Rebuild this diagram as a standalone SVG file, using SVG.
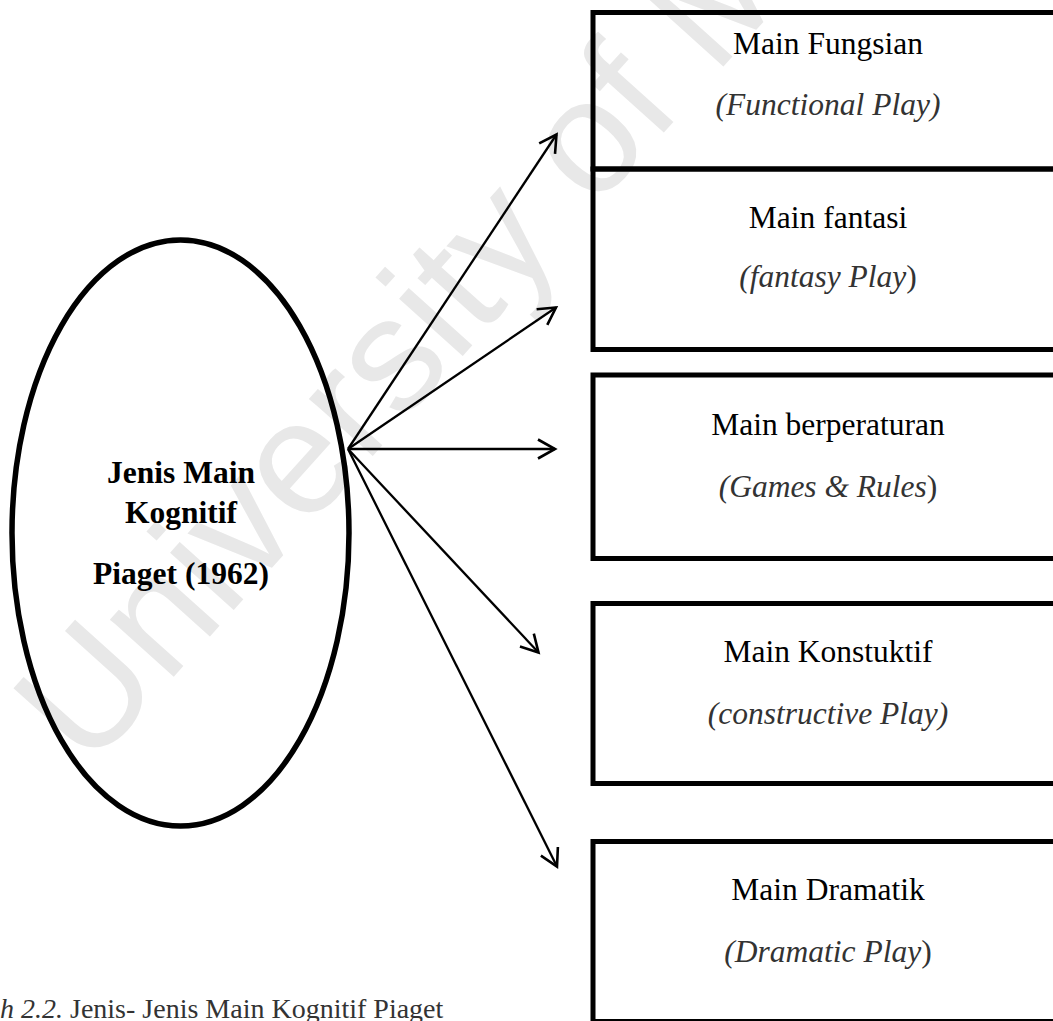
<svg xmlns="http://www.w3.org/2000/svg" width="1053" height="1021" viewBox="0 0 1053 1021">
  <style>
    .box { fill: none; stroke: #000; stroke-width: 5; }
    .oval { fill: none; stroke: #000; stroke-width: 5.5; }
    .lbl { font-family: "Liberation Serif", "Times New Roman", serif; font-size: 31.5px; fill: #000; text-anchor: middle; }
    .sub { font-family: "Liberation Serif", "Times New Roman", serif; font-size: 31.5px; fill: #333; text-anchor: middle; }
    .it { font-style: italic; }
    .head { font-family: "Liberation Serif", "Times New Roman", serif; font-size: 31.5px; font-weight: bold; fill: #000; text-anchor: middle; }
    .link { stroke: #000; stroke-width: 2.3; fill: none; marker-end: url(#openArrow); }
    .wm { font-family: "Liberation Sans", Arial, sans-serif; font-size: 162px; fill: #e8e8e8; }
    .cap { font-family: "Liberation Serif", "Times New Roman", serif; font-size: 28px; fill: #333; }
  </style>
  <defs>
    <marker id="openArrow" markerUnits="userSpaceOnUse" viewBox="-22 -13 26 26" refX="0" refY="0" markerWidth="26" markerHeight="26" orient="auto">
      <path d="M-17,-9.5 L0,0 L-17,9.5" fill="none" stroke="#000" stroke-width="2.6" stroke-linejoin="miter"/>
    </marker>
  </defs>

  <rect width="1053" height="1021" fill="#fff"/>

  <!-- background watermark -->
  <text class="wm" transform="translate(88,772) rotate(-48)" x="0" y="0">University of Malaya</text>

  <!-- central node -->
  <g id="node-piaget">
    <ellipse class="oval" cx="180.5" cy="533" rx="168.5" ry="293"/>
    <text class="head" x="181" y="483">Jenis Main</text>
    <text class="head" x="181" y="523">Kognitif</text>
    <text class="head" x="181" y="584">Piaget (1962)</text>
  </g>

  <!-- play types -->
  <g id="node-functional">
    <rect class="box" x="593" y="12.5" width="470" height="156.5"/>
    <text class="lbl" x="828" y="54">Main Fungsian</text>
    <text class="sub it" x="828" y="114.5">(Functional Play)</text>
  </g>
  <g id="node-fantasy">
    <rect class="box" x="593" y="169" width="470" height="180.5"/>
    <text class="lbl" x="828" y="227.5">Main fantasi</text>
    <text class="sub" x="828" y="287"><tspan class="it">(fantasy Play</tspan>)</text>
  </g>
  <g id="node-rules">
    <rect class="box" x="593" y="375" width="470" height="183.5"/>
    <text class="lbl" x="828" y="435">Main berperaturan</text>
    <text class="sub" x="828" y="497"><tspan class="it">(Games &amp; Rules</tspan>)</text>
  </g>
  <g id="node-constructive">
    <rect class="box" x="593" y="603.5" width="470" height="180"/>
    <text class="lbl" x="828" y="661.5">Main Konstuktif</text>
    <text class="sub it" x="828" y="723.5">(constructive Play)</text>
  </g>
  <g id="node-dramatic">
    <rect class="box" x="593" y="841.5" width="470" height="180"/>
    <text class="lbl" x="828" y="900">Main Dramatik</text>
    <text class="sub" x="828" y="961.5"><tspan class="it">(Dramatic Play</tspan>)</text>
  </g>

  <!-- connectors -->
  <g id="connectors">
    <line class="link" x1="348" y1="449" x2="556.5" y2="134.5"/>
    <line class="link" x1="348" y1="449" x2="556" y2="307.5"/>
    <line class="link" x1="348" y1="449" x2="555" y2="449"/>
    <line class="link" x1="348" y1="449" x2="538.5" y2="652.5"/>
    <line class="link" x1="348" y1="449" x2="557" y2="866.5"/>
  </g>

  <!-- caption -->
  <text class="cap" x="0" y="1018"><tspan class="it">h 2.2.</tspan> Jenis- Jenis Main Kognitif Piaget</text>
</svg>
